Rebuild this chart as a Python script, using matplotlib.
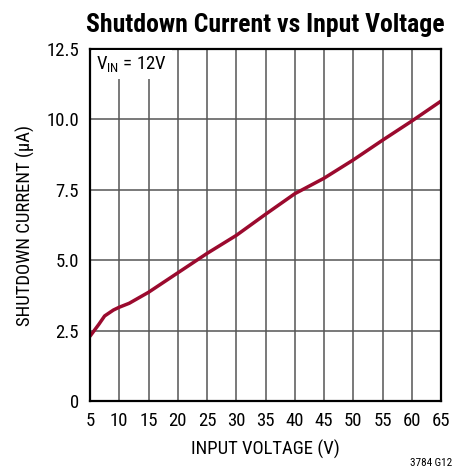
import matplotlib.pyplot as plt
import matplotlib as mpl

# Data
input_voltage = [5, 6.5, 7.5, 9, 10, 11.7, 15, 20, 25, 30, 35, 40, 45, 50, 55, 60, 65]
shutdown_current = [2.3, 2.72, 3.02, 3.23, 3.33, 3.47, 3.86, 4.55, 5.24, 5.88, 6.63, 7.36, 7.91,
                    8.56, 9.26, 9.94, 10.65]

x_ticks = [5, 10, 15, 20, 25, 30, 35, 40, 45, 50, 55, 60, 65]
y_ticks = [0, 2.5, 5.0, 7.5, 10.0, 12.5]
y_tick_labels = ['0', '2.5', '5.0', '7.5', '10.0', '12.5']

mpl.rcParams['font.family'] = ['Roboto Condensed', 'DejaVu Sans']
mpl.rcParams['mathtext.fontset'] = 'custom'
mpl.rcParams['mathtext.rm'] = 'Roboto Condensed'

fig = plt.figure(figsize=(4.66, 4.70), dpi=100)
ax = fig.add_axes([90/466, 1-401/470, 351/466, 352/470])

ax.plot(input_voltage, shutdown_current, color='#9b0a2e', lw=2.5,
        solid_capstyle='round', solid_joinstyle='round', zorder=3)

ax.set_xlim(5, 65)
ax.set_ylim(0, 12.5)
ax.set_xticks(x_ticks)
ax.set_yticks(y_ticks)
ax.set_yticklabels(y_tick_labels)
ax.tick_params(length=0, labelsize=13.5, pad=8)
ax.grid(True, color='#555555', lw=1.1)
ax.set_axisbelow(True)
for s in ax.spines.values():
    s.set_linewidth(1.6)
    s.set_color('black')
    s.set_zorder(4)

ax.set_xlabel('INPUT VOLTAGE (V)', fontsize=13.5, labelpad=7)
ax.set_ylabel('SHUTDOWN CURRENT (\u00b5A)', fontsize=13.5, labelpad=8)
ax.set_title('Shutdown Current vs Input Voltage', fontsize=18.5, fontweight='bold', pad=12)

ax.text(0.018, 0.985, r'V$_{\mathregular{IN}}$ = 12V', transform=ax.transAxes, fontsize=13.5,
        ha='left', va='top', zorder=5,
        bbox=dict(facecolor='white', edgecolor='none', boxstyle='square,pad=0.25'))

fig.text(452/466, 1-463/470, '3784 G12', fontsize=8, ha='right', va='center')

fig.savefig('out.png', dpi=100)
